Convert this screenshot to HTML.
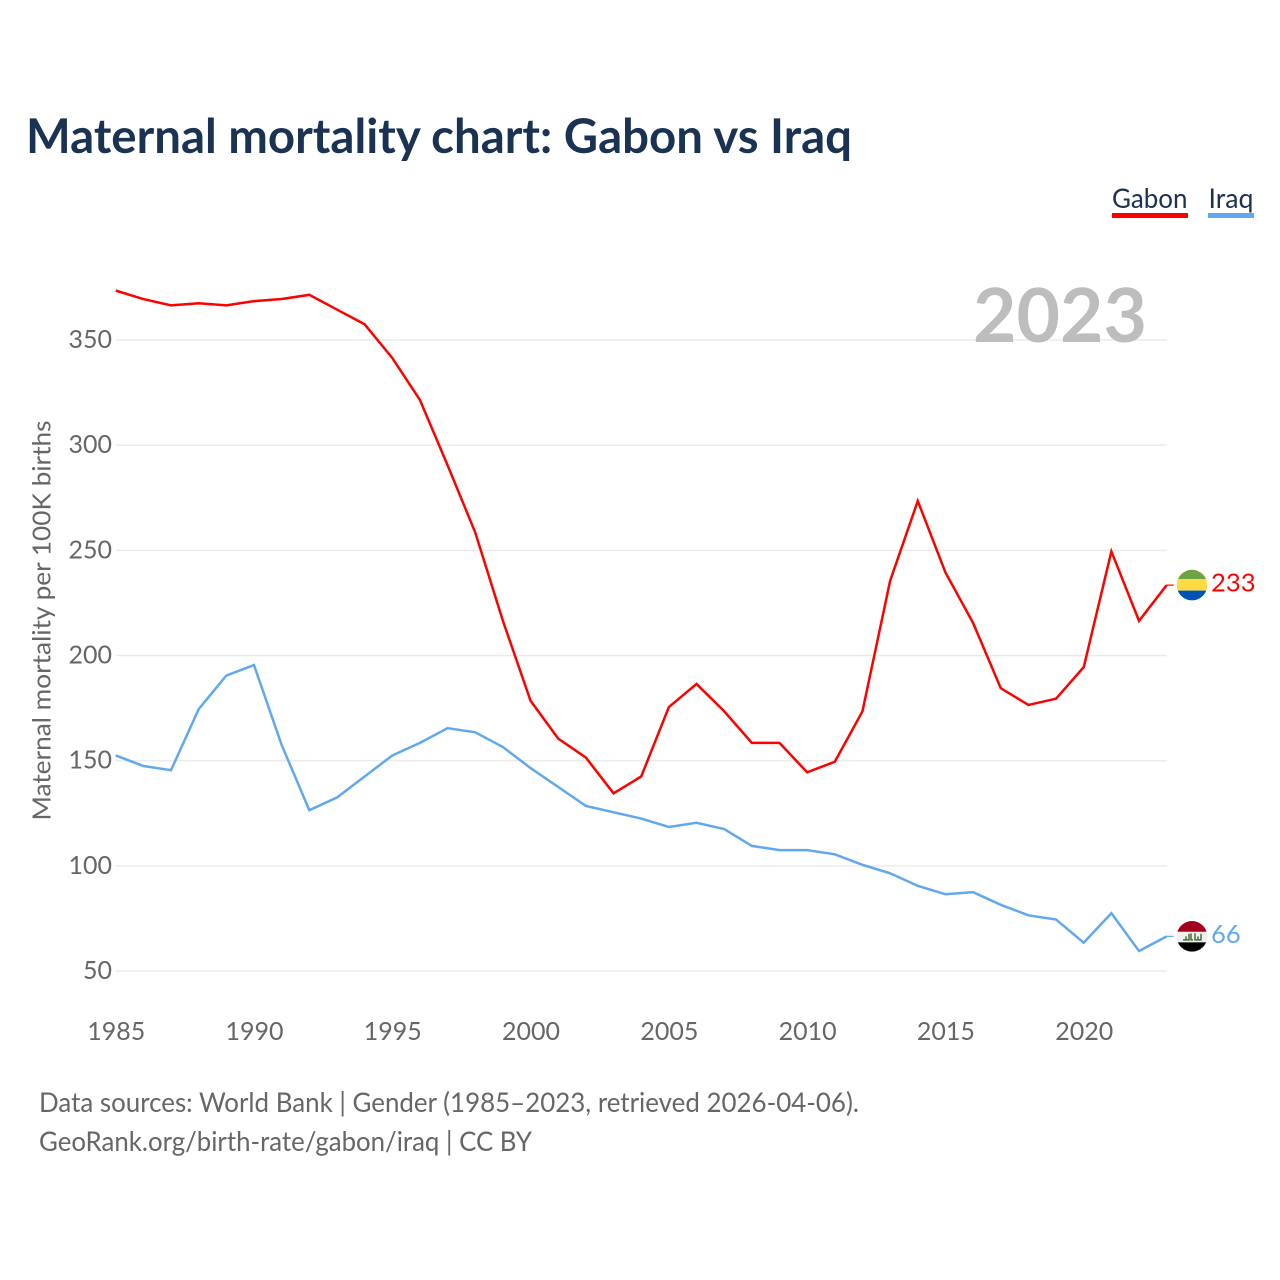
<!DOCTYPE html>
<html lang="en">
<head>
<meta charset="utf-8">
<title>Maternal mortality chart: Gabon vs Iraq</title>
<style>
html,body{margin:0;padding:0;background:#fff;width:1280px;height:1280px;overflow:hidden}
svg{display:block}
text{font-family:"Lato","Carlito","Liberation Sans",sans-serif}
</style>
</head>
<body>
<svg id="chart" xmlns="http://www.w3.org/2000/svg" width="1280" height="1280" viewBox="0 0 1280 1280">
  <rect width="1280" height="1280" fill="#fff"/>
  <text x="26" y="153" font-size="47.5" font-weight="700" fill="#1a3353" textLength="826" lengthAdjust="spacingAndGlyphs">Maternal mortality chart: Gabon vs Iraq</text>
  <g id="grid"></g>
  <g id="yticks"></g>
  <g id="xticks"></g>
  <text transform="translate(50.5,620.5) rotate(-90)" text-anchor="middle" font-size="25.3" fill="#666" textLength="400" lengthAdjust="spacingAndGlyphs">Maternal mortality per 100K births</text>
  <text x="1147" y="342" text-anchor="end" font-size="75" font-weight="700" fill="#bdbdbd">2023</text>

  <g>
    <text x="1112" y="208" font-size="27" fill="#1a3353" textLength="75.5" lengthAdjust="spacingAndGlyphs">Gabon</text>
    <rect x="1112" y="213" width="76" height="5" fill="#ff0000"/>
  </g>
  <g>
    <text x="1208.5" y="208" font-size="27" fill="#1a3353" textLength="45" lengthAdjust="spacingAndGlyphs">Iraq</text>
    <rect x="1208" y="213" width="46" height="5" fill="#62a8ee"/>
  </g>

  <path id="line-gabon" fill="none" stroke="#ff0000" stroke-width="2.5" stroke-linejoin="miter"/>
  <path id="line-iraq" fill="none" stroke="#62a8ee" stroke-width="2.5" stroke-linejoin="miter"/>
  <line id="conn-gabon" stroke="#ff0000" stroke-width="1.2"/>
  <line id="conn-iraq" stroke="#62a8ee" stroke-width="1.2"/>

  <defs>
    <clipPath id="clip-gabon"><circle cx="0" cy="0" r="15.3"/></clipPath>
    <clipPath id="clip-iraq"><circle cx="0" cy="0" r="15.3"/></clipPath>
  </defs>
  <g id="flag-gabon">
    <g clip-path="url(#clip-gabon)">
      <rect x="-16" y="-16" width="32" height="10" fill="#6da544"/>
      <rect x="-16" y="-6" width="32" height="11.5" fill="#ffda44"/>
      <rect x="-16" y="5.5" width="32" height="11" fill="#0052b4"/>
    </g>
  </g>
  <g id="flag-iraq">
    <g clip-path="url(#clip-iraq)">
      <rect x="-16" y="-16" width="32" height="11.5" fill="#a2001d"/>
      <rect x="-16" y="-4.5" width="32" height="10.5" fill="#f0f0f0"/>
      <rect x="-16" y="6" width="32" height="10" fill="#000"/>
      <path d="M-9 3.5h6v-6M-6 0v3.5M-1 -3v6.5h2M3 -3v6.5h6v-6M6 0v3.5" fill="none" stroke="#496e2d" stroke-width="1.5"/>
    </g>
  </g>
  <text id="value-gabon" x="1211" font-size="25.6" fill="#ff0000"></text>
  <text id="value-iraq" x="1211" font-size="25.6" fill="#62a8ee"></text>

  <text x="39" y="1112" font-size="27" fill="#666" textLength="820" lengthAdjust="spacingAndGlyphs">Data sources: World Bank | Gender (1985–2023, retrieved 2026-04-06).</text>
  <text x="39" y="1151" font-size="27" fill="#666" textLength="493" lengthAdjust="spacingAndGlyphs">GeoRank.org/birth-rate/gabon/iraq | CC BY</text>
</svg>
<script>
var startYear = 1985;
var gabonValues = [373,369,366,367,366,368,369,371,364,357,341,321,290,258,216,178,160,151,134,142,175,186,173,158,158,144,149,173,235,273,239,215,184,176,179,194,249,216,233];
var iraqValues = [152,147,145,174,190,195,157,126,132,142,152,158,165,163,156,146,137,128,125,122,118,120,117,109,107,107,105,100,96,90,86,87,81,76,74,63,77,59,66];
var yTickValues = [50,100,150,200,250,300,350];
var xTickYears = [1985,1990,1995,2000,2005,2010,2015,2020];

var NS = 'http://www.w3.org/2000/svg';
function xScale(year){ return 116 - 0.3 + (year - 1985) * (1167 - 116) / 38; }
function yScale(v){ return 971 - (v - 50) * (971 - 340) / 300; }
function yLine(v){ return yScale(v) - 1; }
function svgEl(tag, attrs, parent){
  var el = document.createElementNS(NS, tag);
  for (var k in attrs) el.setAttribute(k, attrs[k]);
  parent.appendChild(el);
  return el;
}
function linePath(values){
  return values.map(function(v, i){
    return (i ? 'L' : 'M') + xScale(startYear + i).toFixed(2) + ' ' + yLine(v).toFixed(2);
  }).join('');
}
var grid = document.getElementById('grid');
var yticks = document.getElementById('yticks');
var xticks = document.getElementById('xticks');
yTickValues.forEach(function(v){
  var g = svgEl('line', {x1:116, x2:1167, y1:yScale(v), y2:yScale(v), stroke:'#ebebeb', 'stroke-width':1.5}, grid);
  
  
  var t = svgEl('text', {x:112, y:yScale(v) + 8, 'text-anchor':'end', 'font-size':25, fill:'#666'}, yticks);
  
  
  t.textContent = v;
});
xTickYears.forEach(function(y){
  var t = svgEl('text', {x:xScale(y) + 0.5, y:1040, 'text-anchor':'middle', 'font-size':25, fill:'#666'}, xticks);
  
  
  t.textContent = y;
});
function drawSeries(key, values){
  var last = values[values.length - 1];
  var ly = yLine(last);
  var endX = xScale(startYear + values.length - 1);
  document.getElementById('line-' + key).setAttribute('d', linePath(values));
  var c = document.getElementById('conn-' + key);
  c.setAttribute('x1', endX); c.setAttribute('x2', endX + 7);
  c.setAttribute('y1', ly); c.setAttribute('y2', ly);
  document.getElementById('flag-' + key).setAttribute('transform', 'translate(1192,' + ly + ')');
  var t = document.getElementById('value-' + key);
  t.setAttribute('y', ly + 6.5);
  t.textContent = last;
}
drawSeries('gabon', gabonValues);
drawSeries('iraq', iraqValues);
</script>
</body>
</html>
